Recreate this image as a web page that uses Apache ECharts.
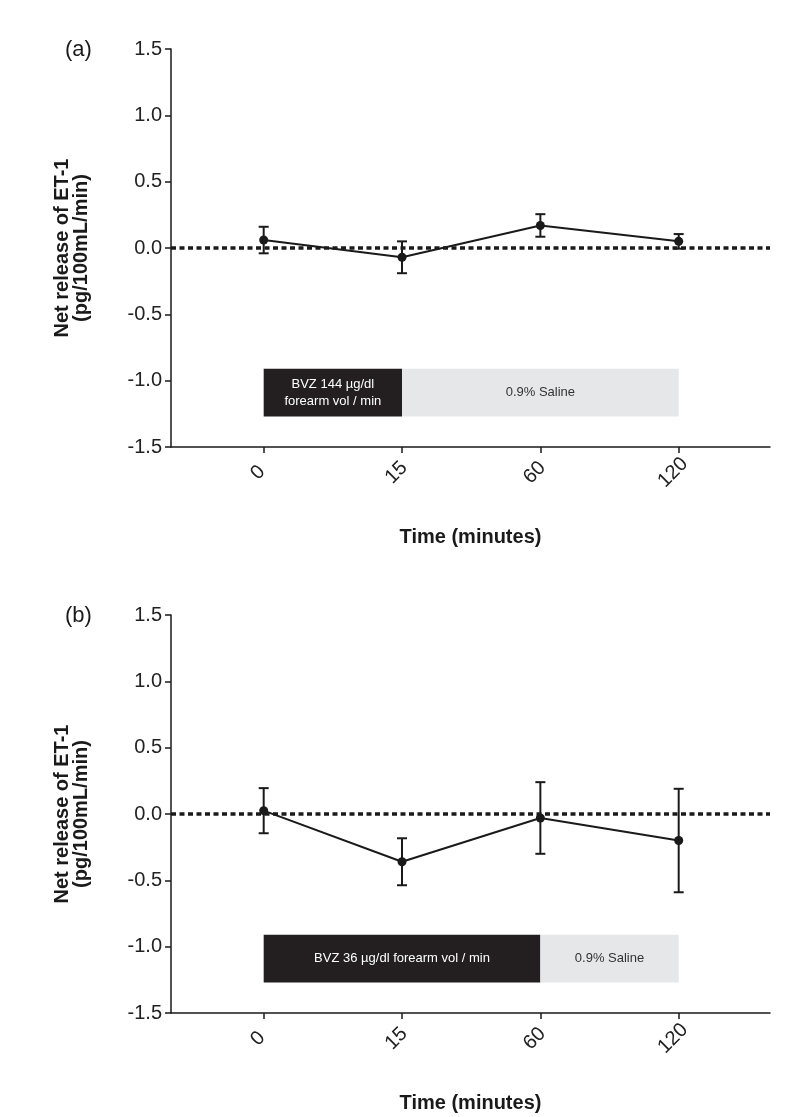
<!DOCTYPE html>
<html>
<head>
<meta charset="utf-8">
<script src="https://cdn.jsdelivr.net/npm/echarts@6/dist/echarts.min.js"></script>
<style>
html,body{margin:0;padding:0;background:#fff;}
#chart{width:800px;height:1117px;}
</style>
</head>
<body>
<div id="chart"></div>
<script>
// ---- data ----
const timeLabels = ['0', '15', '60', '120'];
const timeIndex = [0, 1, 2, 3];
const yTicks = [-1.5, -1.0, -0.5, 0.0, 0.5, 1.0, 1.5];

const meanA = [0.06, -0.07, 0.17, 0.05];
const errA  = [0.10, 0.12, 0.085, 0.055];
const meanB = [0.025, -0.36, -0.03, -0.20];
const errB  = [0.17, 0.177, 0.27, 0.39];

const boxY = [-0.91, -1.27];
const boxesA = [[0, 1], [1, 3]];
const boxLabelsA = ['BVZ 144 µg/dl\nforearm vol / min', '0.9% Saline'];
const boxesB = [[0, 2], [2, 3]];
const boxLabelsB = ['BVZ 36 µg/dl forearm vol / min', '0.9% Saline'];
const boxColors = ['#231f20', '#e6e7e8'];
const boxTextColors = ['#ffffff', '#333333'];

const FONT = '"Liberation Sans", Arial, Helvetica, sans-serif';
const INK = '#1a1a1a';

const grids = [
  {left: 171, top: 49, width: 599, height: 398},
  {left: 171, top: 615, width: 599, height: 398}
];

function xAxisFor(gi) {
  return {
    type: 'value', gridIndex: gi, min: -0.67, max: 3.66,
    splitLine: {show: false},
    axisLine: {show: true, onZero: false, lineStyle: {color: INK, width: 1.5}},
    axisTick: {show: true, customValues: timeIndex, length: 6, lineStyle: {color: INK, width: 1.5}},
    axisLabel: {
      customValues: timeIndex, rotate: 45, margin: 20,
      align: 'center', verticalAlign: 'middle', padding: [0, 16, 0, 0],
      formatter: v => timeLabels[Math.round(v)],
      fontFamily: FONT, fontSize: 20, color: '#222'
    },
    name: 'Time (minutes)', nameLocation: 'middle', nameGap: 80,
    nameTextStyle: {fontFamily: FONT, fontSize: 20, fontWeight: 'bold', color: INK}
  };
}
function yAxisFor(gi) {
  return {
    type: 'value', gridIndex: gi, min: -1.5, max: 1.5, interval: 0.5,
    splitLine: {show: false},
    axisLine: {show: true, onZero: false, lineStyle: {color: INK, width: 1.5}},
    axisTick: {show: true, length: 6, lineStyle: {color: INK, width: 1.5}},
    axisLabel: {
      formatter: v => v.toFixed(1), margin: 9,
      fontFamily: FONT, fontSize: 20, color: '#222'
    },
    name: 'Net release of ET-1\n(pg/100mL/min)', nameLocation: 'middle', nameGap: 80,
    nameTextStyle: {fontFamily: FONT, fontSize: 20, fontWeight: 'bold', color: INK, lineHeight: 19}
  };
}

function errSeries(gi, mean, err) {
  return {
    type: 'custom', xAxisIndex: gi, yAxisIndex: gi, z: 3,
    data: mean.map((m, i) => [timeIndex[i], m - err[i], m + err[i]]),
    renderItem: function (params, api) {
      const lo = api.coord([api.value(0), api.value(1)]);
      const hi = api.coord([api.value(0), api.value(2)]);
      const w = 5;
      const st = {stroke: INK, lineWidth: 2};
      return {type: 'group', children: [
        {type: 'line', shape: {x1: lo[0], y1: lo[1], x2: hi[0], y2: hi[1]}, style: st},
        {type: 'line', shape: {x1: lo[0] - w, y1: lo[1], x2: lo[0] + w, y2: lo[1]}, style: st},
        {type: 'line', shape: {x1: hi[0] - w, y1: hi[1], x2: hi[0] + w, y2: hi[1]}, style: st}
      ]};
    }
  };
}

function boxSeries(gi, boxes, labels) {
  return {
    type: 'line', xAxisIndex: gi, yAxisIndex: gi, data: [], z: 1,
    markArea: {
      silent: true,
      data: boxes.map((b, i) => [
        {xAxis: b[0], yAxis: boxY[0],
         itemStyle: {color: boxColors[i]},
         label: {show: true, position: 'inside', formatter: labels[i], color: boxTextColors[i],
                 fontFamily: FONT, fontSize: 13, lineHeight: 17, align: 'center', verticalAlign: 'middle'}},
        {xAxis: b[1], yAxis: boxY[1]}
      ])
    }
  };
}

function mainSeries(gi, mean) {
  return {
    type: 'line', xAxisIndex: gi, yAxisIndex: gi, z: 4,
    data: mean.map((m, i) => [timeIndex[i], m]),
    symbol: 'circle', symbolSize: 9,
    itemStyle: {color: INK},
    lineStyle: {color: INK, width: 2},
    markLine: {
      silent: true, symbol: 'none', label: {show: false},
      lineStyle: {color: INK, width: 3.5, type: [5, 3.5]},
      data: [{yAxis: 0}]
    }
  };
}

const chart = echarts.init(document.getElementById('chart'), null, {renderer: 'canvas'});
chart.setOption({
  backgroundColor: '#fff',
  animation: false,
  title: [
    {text: '(a)', left: 60, top: 34, textStyle: {fontFamily: FONT, fontSize: 22, fontWeight: 'normal', color: INK}},
    {text: '(b)', left: 60, top: 600, textStyle: {fontFamily: FONT, fontSize: 22, fontWeight: 'normal', color: INK}}
  ],
  grid: grids,
  xAxis: [xAxisFor(0), xAxisFor(1)],
  yAxis: [yAxisFor(0), yAxisFor(1)],
  series: [
    boxSeries(0, boxesA, boxLabelsA),
    errSeries(0, meanA, errA),
    mainSeries(0, meanA),
    boxSeries(1, boxesB, boxLabelsB),
    errSeries(1, meanB, errB),
    mainSeries(1, meanB)
  ]
});
</script>
</body>
</html>
